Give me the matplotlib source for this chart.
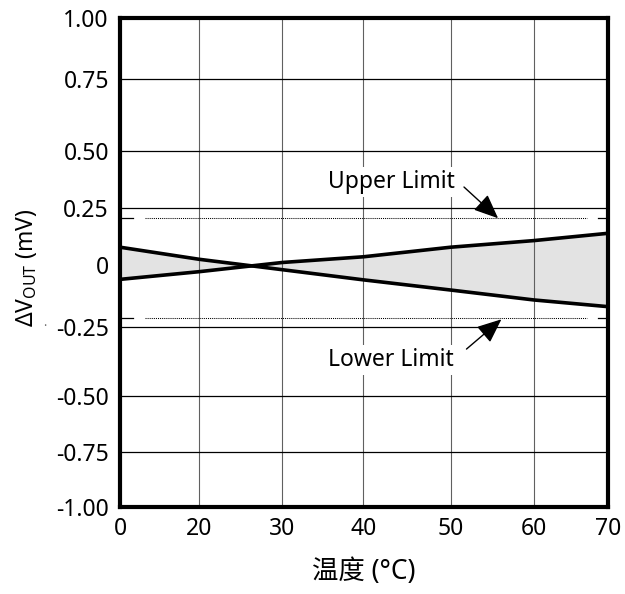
import numpy as np
import matplotlib.pyplot as plt

plt.rcParams['font.family'] = ['Noto Sans', 'Noto Sans CJK SC', 'DejaVu Sans']
plt.rcParams['mathtext.fontset'] = 'custom'
plt.rcParams['mathtext.rm'] = 'Noto Sans'

# data
temps = [0, 20, 30, 40, 50, 60, 70]
drift_falling = [0.078, 0.025, -0.019, -0.060, -0.101, -0.141, -0.168]
drift_rising = [-0.058, -0.027, 0.011, 0.036, 0.078, 0.107, 0.139]
upper_limit = 0.205
lower_limit = -0.215

x_ticks = [0, 20, 30, 40, 50, 60, 70]
x_tick_labels = ['0', '20', '30', '40', '50', '60', '70']
y_ticks = [-1.0, -0.75, -0.5, -0.25, 0.0, 0.25, 0.5, 0.75, 1.0]
y_tick_labels = ['-1.00', '-0.75', '-0.50', '-0.25', '0', '0.25', '0.50', '0.75', '1.00']

# the printed grid is unevenly spaced, so use a piecewise scale
x_grid_pos = np.array([0, 79, 162, 243, 330, 413, 487], dtype=float)
y_grid_pos = np.array([0, 55, 111, 180, 242, 299, 356, 428, 489], dtype=float)


def x_fwd(v):
    return np.interp(v, x_ticks, x_grid_pos)


def x_inv(p):
    return np.interp(p, x_grid_pos, x_ticks)


def y_fwd(v):
    return np.interp(v, y_ticks, y_grid_pos)


def y_inv(p):
    return np.interp(p, y_grid_pos, y_ticks)


fig = plt.figure(figsize=(6.25, 5.94), dpi=100)
ax = fig.add_axes([0.192, 0.1465, 0.7808, 0.8232])
ax.set_xscale('function', functions=(x_fwd, x_inv))
ax.set_yscale('function', functions=(y_fwd, y_inv))
ax.set_xlim(0, 70)
ax.set_ylim(-1, 1)

ax.fill_between(temps, drift_falling, drift_rising, color='#e3e3e3', lw=0, zorder=1)
ax.plot(temps, drift_falling, color='black', lw=2.6, zorder=4, solid_capstyle='butt')
ax.plot(temps, drift_rising, color='black', lw=2.6, zorder=4, solid_capstyle='butt')

# limit lines: dotted with short end dashes
for lim in (upper_limit, lower_limit):
    ax.plot([6.3, 67.2], [lim, lim], color='black', lw=0.75, ls=(0, (1, 1)), zorder=3)
    ax.plot([0.5, 3.3], [lim, lim], color='black', lw=0.9, zorder=3)
    ax.plot([68.6, 69.9], [lim, lim], color='black', lw=0.9, zorder=3)

box = dict(facecolor='white', edgecolor='none', pad=2)
ax.text(43.2, 0.364, 'Upper Limit', ha='center', va='center', fontsize=16.5, bbox=box, zorder=3)
ax.text(43.1, -0.37, 'Lower Limit', ha='center', va='center', fontsize=16.5, bbox=box, zorder=3)

arrow = dict(arrowstyle='-|>,head_length=0.75,head_width=0.32', color='black', lw=1,
             shrinkA=0, shrinkB=0, mutation_scale=20)
ax.annotate('', xy=(55.7, upper_limit), xytext=(51.6, 0.342), arrowprops=arrow)
ax.annotate('', xy=(56.1, lower_limit - 0.004), xytext=(51.9, -0.33), arrowprops=arrow)

ax.set_xticks(x_ticks)
ax.set_xticklabels(x_tick_labels)
ax.set_yticks(y_ticks)
ax.set_yticklabels(y_tick_labels)
ax.minorticks_off()
ax.tick_params(axis='both', length=0, labelsize=16.5)
ax.tick_params(axis='x', pad=7)
ax.tick_params(axis='y', pad=8)

ax.set_axisbelow('line')
ax.grid(axis='x', color='#606060', lw=0.8)
ax.grid(axis='y', color='black', lw=0.9)
# no grid line at zero in the original
ax.get_ygridlines()[y_ticks.index(0.0)].set_visible(False)

for sp in ax.spines.values():
    sp.set_linewidth(3)
    sp.set_zorder(5)

ax.set_xlabel('温度 (°C)', fontsize=19)
ax.xaxis.set_label_coords(0.5, -0.105)
ax.set_ylabel('ΔV$_{\\mathrm{OUT}}$ (mV)', fontsize=16.5)
ax.yaxis.set_label_coords(-0.165, 0.49)
ax.text(-0.154, 0.364, '.', transform=ax.transAxes, fontsize=9, color='#666666',
        ha='center', va='bottom')

fig.savefig('out.png', dpi=100)
